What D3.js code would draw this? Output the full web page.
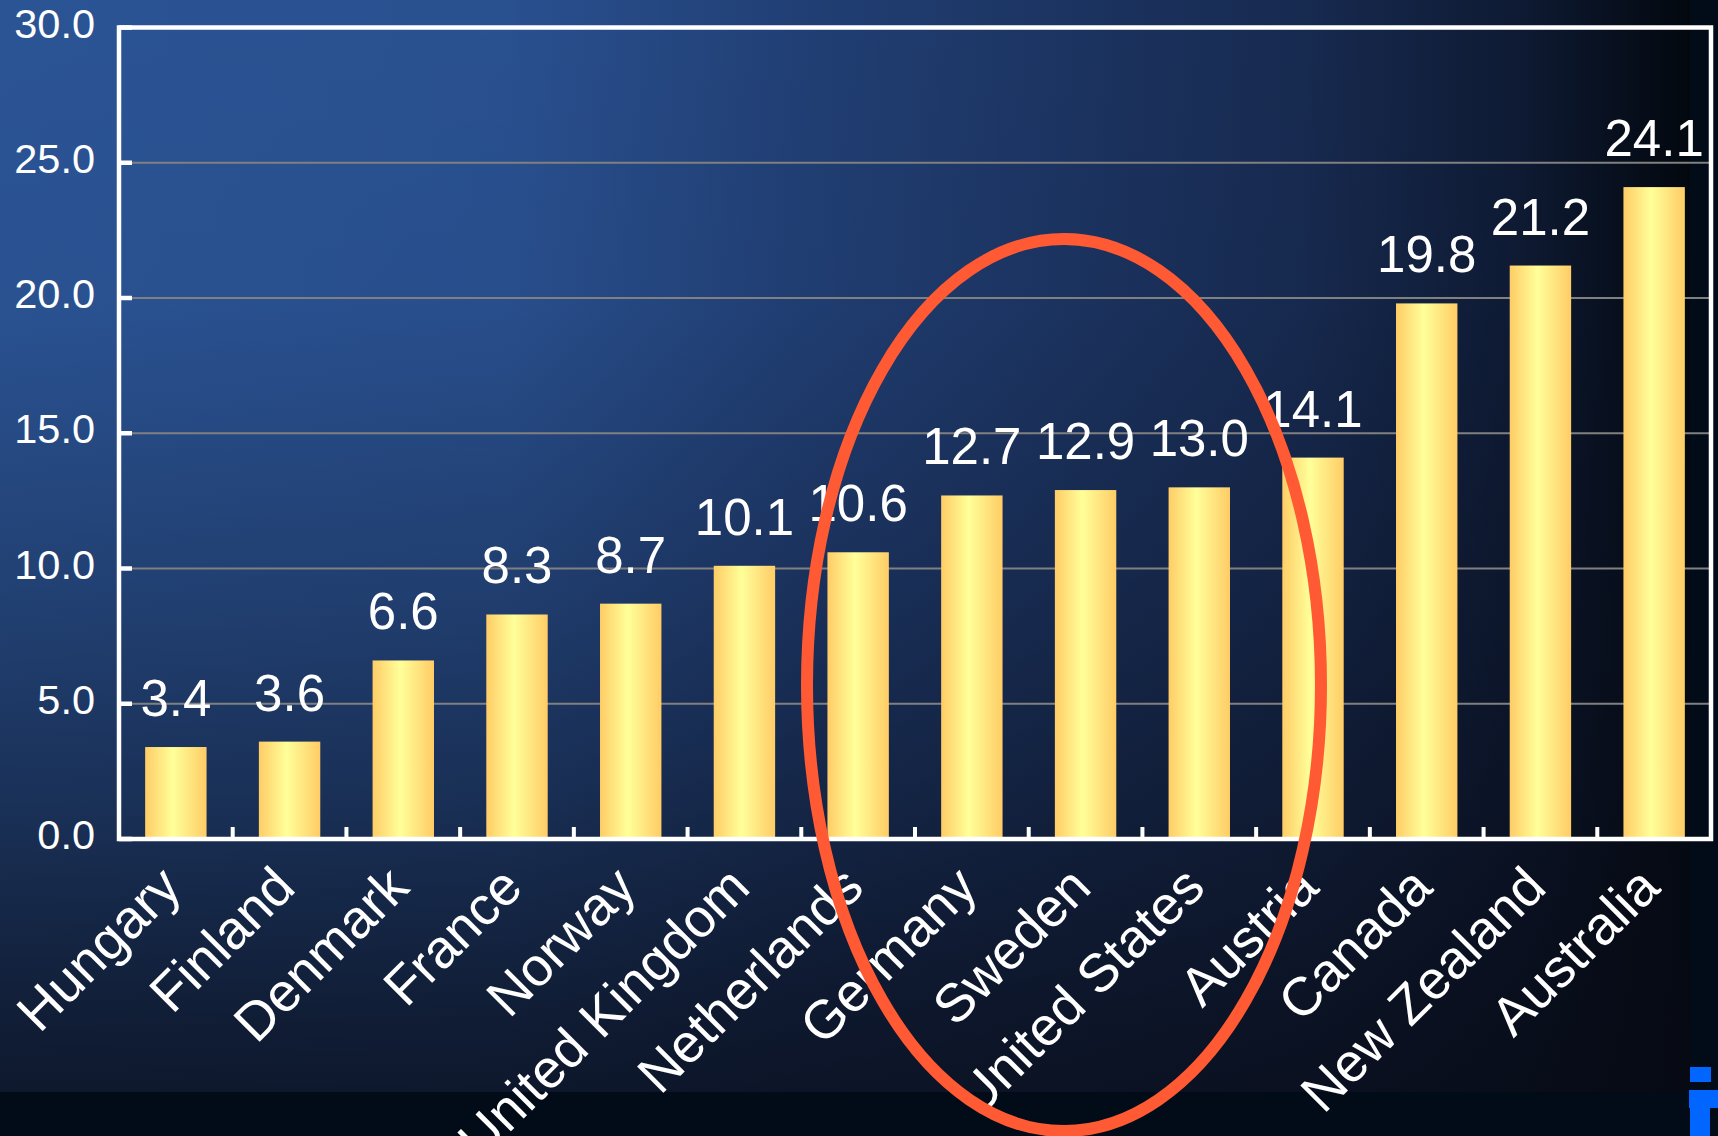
<!DOCTYPE html>
<html>
<head>
<meta charset="utf-8">
<script src="https://cdn.jsdelivr.net/npm/d3@7"></script>
<style>
  html, body { margin: 0; padding: 0; background: #010c18; }
  svg { display: block; }
  text { font-family: "Liberation Sans", Arial, sans-serif; fill: #fff; }
</style>
</head>
<body>
<script>
// chart data
const countries = ['Hungary', 'Finland', 'Denmark', 'France', 'Norway', 'United Kingdom', 'Netherlands',
	'Germany', 'Sweden', 'United States', 'Austria', 'Canada', 'New Zealand', 'Australia'];
const values = [3.4, 3.6, 6.6, 8.3, 8.7, 10.1, 10.6, 12.7, 12.9, 13.0, 14.1, 19.8, 21.2, 24.1];
const yTicks = [0, 5, 10, 15, 20, 25, 30];

const data = countries.map((c, i) => ({ country: c, value: values[i] }));

const W = 1718, H = 1136;
const frame = { left: 119, right: 1711, top: 27.5, bottom: 839 };

const svg = d3.select('body').append('svg')
	.attr('width', W)
	.attr('height', H);

const defs = svg.append('defs');

// background: blue on the left fading to near black on the right
const bgH = defs.append('linearGradient').attr('id', 'bgH')
	.attr('x1', '0').attr('y1', '0').attr('x2', '1').attr('y2', '0');
[[0, '#2b5495'], [0.3, '#29508f'], [0.47, '#213f75'], [0.77, '#172a50'], [0.9, '#0e1a33'], [1, '#03080f']]
	.forEach(([o, c]) => bgH.append('stop').attr('offset', o).attr('stop-color', c));

// and darker towards the bottom
const bgV = defs.append('linearGradient').attr('id', 'bgV')
	.attr('x1', '0').attr('y1', '0').attr('x2', '0').attr('y2', '1');
[[0, 0], [0.28, 0.03], [0.55, 0.27], [0.73, 0.47], [0.92, 0.72], [1, 0.8]]
	.forEach(([o, a]) => bgV.append('stop').attr('offset', o).attr('stop-color', '#070a14').attr('stop-opacity', a));

// bar fill: orange edges, pale yellow centre
const barGrad = defs.append('linearGradient').attr('id', 'barGrad')
	.attr('x1', '0').attr('y1', '0').attr('x2', '1').attr('y2', '0');
[[0, '#ffcc66'], [0.45, '#ffff99'], [1, '#ffcc66']]
	.forEach(([o, c]) => barGrad.append('stop').attr('offset', o).attr('stop-color', c));

svg.append('rect').attr('width', W).attr('height', H).attr('fill', '#010c18');
svg.append('rect').attr('width', 1690).attr('height', 1092).attr('fill', 'url(#bgH)');
svg.append('rect').attr('width', 1690).attr('height', 1092).attr('fill', 'url(#bgV)');

// scales
const x = d3.scaleBand()
	.domain(countries)
	.range([frame.left, frame.right])
	.paddingInner(0.46)
	.paddingOuter(0.23);
const y = d3.scaleLinear()
	.domain([0, 30])
	.range([frame.bottom, frame.top]);

// gridlines
svg.append('g')
	.selectAll('line')
	.data(yTicks.filter(t => t > 0 && t < 30))
	.join('line')
	.attr('x1', frame.left)
	.attr('x2', frame.right)
	.attr('y1', d => y(d))
	.attr('y2', d => y(d))
	.attr('stroke', '#808080')
	.attr('stroke-width', 2);

// bars
svg.append('g')
	.selectAll('rect')
	.data(data)
	.join('rect')
	.attr('x', d => x(d.country))
	.attr('y', d => y(d.value))
	.attr('width', x.bandwidth())
	.attr('height', d => y(0) - y(d.value))
	.attr('fill', 'url(#barGrad)');

// plot frame
svg.append('rect')
	.attr('x', frame.left)
	.attr('y', frame.top)
	.attr('width', frame.right - frame.left)
	.attr('height', frame.bottom - frame.top)
	.attr('fill', 'none')
	.attr('stroke', '#fff')
	.attr('stroke-width', 4.5);

// inward ticks on left axis
svg.append('g')
	.selectAll('line')
	.data(yTicks)
	.join('line')
	.attr('x1', frame.left)
	.attr('x2', frame.left + 13)
	.attr('y1', d => y(d))
	.attr('y2', d => y(d))
	.attr('stroke', '#fff')
	.attr('stroke-width', 4.5);

// inward ticks between categories on bottom axis
const gap = x.step() - x.bandwidth();
svg.append('g')
	.selectAll('line')
	.data(countries.slice(1))
	.join('line')
	.attr('x1', d => x(d) - gap / 2)
	.attr('x2', d => x(d) - gap / 2)
	.attr('y1', frame.bottom)
	.attr('y2', frame.bottom - 12)
	.attr('stroke', '#fff')
	.attr('stroke-width', 4);

// y axis labels
svg.append('g')
	.selectAll('text')
	.data(yTicks)
	.join('text')
	.attr('x', 95)
	.attr('y', d => y(d) + 10)
	.attr('text-anchor', 'end')
	.attr('font-size', 41.5)
	.text(d => d3.format('.1f')(d));

// value labels
svg.append('g')
	.selectAll('text')
	.data(data)
	.join('text')
	.attr('x', d => x(d.country) + x.bandwidth() / 2)
	.attr('y', d => y(d.value) - 31)
	.attr('text-anchor', 'middle')
	.attr('font-size', 51)
	.text(d => d3.format('.1f')(d.value));

// category labels, rotated
svg.append('g')
	.selectAll('text')
	.data(countries)
	.join('text')
	.attr('transform', d => `translate(${x(d) + x.bandwidth() / 2 + 8},${frame.bottom + 51}) rotate(-45)`)
	.attr('text-anchor', 'end')
	.attr('font-size', 54)
	.text(d => d);

// highlight ring around the middle group
svg.append('ellipse')
	.attr('cx', 1064)
	.attr('cy', 685)
	.attr('rx', 257)
	.attr('ry', 446)
	.attr('fill', 'none')
	.attr('stroke', '#ff5a33')
	.attr('stroke-width', 12);

// clipped logo in the corner
const logo = svg.append('g').attr('fill', '#0066ff');
logo.append('rect').attr('x', 1690).attr('y', 1067).attr('width', 21).attr('height', 15);
logo.append('rect').attr('x', 1689).attr('y', 1090).attr('width', 29).attr('height', 18);
logo.append('rect').attr('x', 1690).attr('y', 1108).attr('width', 20).attr('height', 28);
</script>
</body>
</html>
